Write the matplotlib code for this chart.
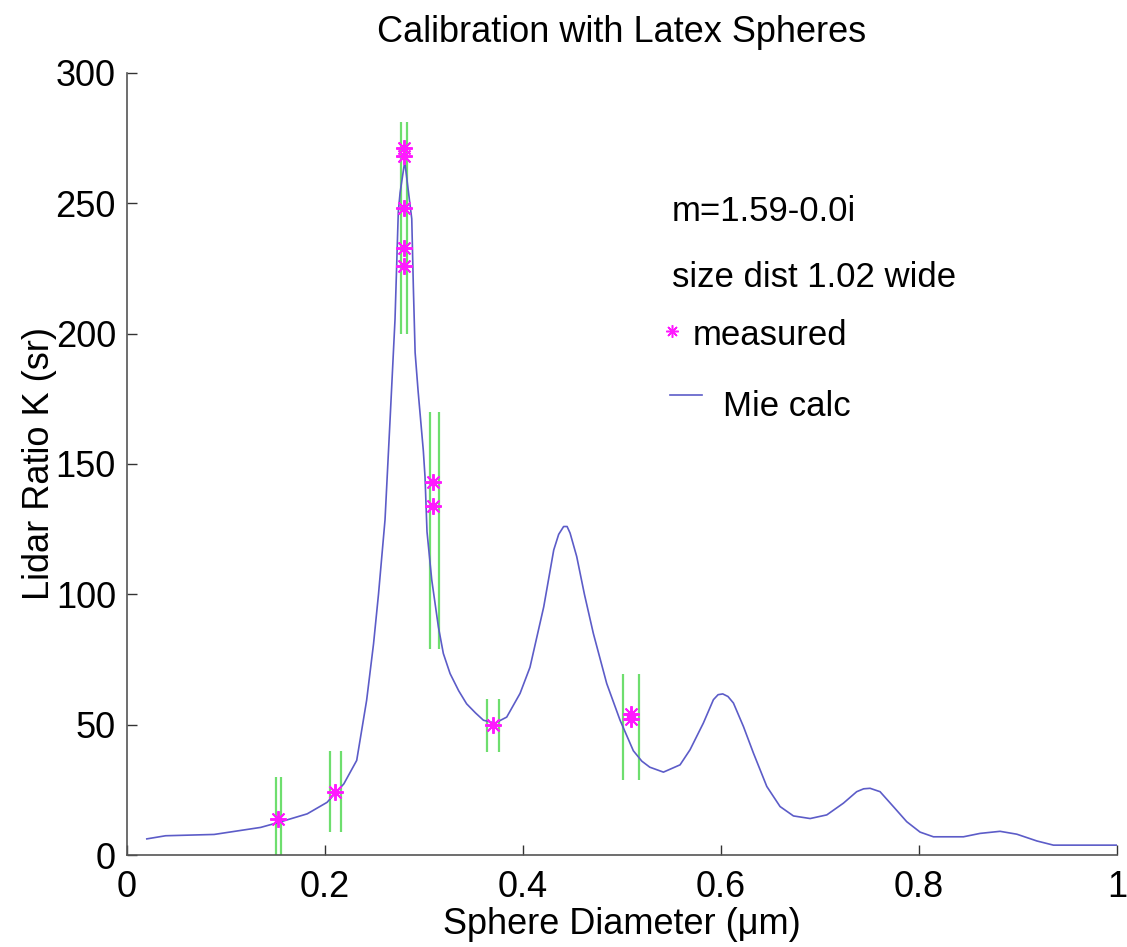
import numpy as np
import matplotlib
matplotlib.use('Agg')
import matplotlib.pyplot as plt

plt.rcParams['font.family'] = ['Liberation Sans', 'DejaVu Sans']

# Mie calculation curve
mie_x = [0.020, 0.039, 0.088, 0.135, 0.153, 0.182, 0.202, 0.219, 0.232, 0.242,
         0.249, 0.254, 0.2606, 0.2657, 0.2707, 0.274, 0.2758, 0.2805, 0.2876, 0.2892,
         0.291, 0.294, 0.2993, 0.301, 0.303, 0.3078, 0.3145, 0.3195, 0.3263, 0.335, 0.343,
         0.352, 0.360, 0.3717, 0.3835, 0.397, 0.407, 0.4209, 0.431, 0.436, 0.441, 0.4445, 0.4475, 0.4542,
         0.462, 0.471, 0.4845, 0.498, 0.5114, 0.520, 0.528, 0.5418, 0.5586, 0.5687, 0.5821, 0.5923,
         0.597, 0.6017, 0.607, 0.6125, 0.6226, 0.6327, 0.6462, 0.6596, 0.6731, 0.690, 0.7068, 0.7236,
         0.737, 0.744, 0.7505, 0.7606, 0.774, 0.7875, 0.801, 0.8145, 0.8448, 0.8616, 0.8818,
         0.8987, 0.919, 0.9357, 1.0]
mie_y = [6.2, 7.4, 7.9, 10.6, 12.5, 15.8, 20.2, 27.3, 36.3, 59.3,
         81, 100, 128.6, 167, 205.5, 246.6, 254, 266, 244, 218,
         192.7, 178, 155, 145, 124, 105.5, 87.5, 77.3, 69.6, 63, 58,
         54.5, 51.7, 50.6, 52.9, 62, 72, 95.2, 117, 123, 126, 126, 123.5, 114.5,
         100, 85, 65.8, 51.7, 40, 36, 33.7, 31.8, 34.6, 40.4, 50.6, 59.6,
         61.5, 61.8, 60.8, 58.3, 49.3, 39.1, 26.3, 18.6, 15, 14, 15.4, 19.9,
         24.3, 25.4, 25.6, 24.3, 18.6, 12.8, 8.8, 7, 7, 8.3, 9.1,
         8, 5.4, 3.8, 3.8]

# measured lidar ratios
meas_x = [0.153, 0.210, 0.280, 0.280, 0.280, 0.280, 0.280, 0.309, 0.309, 0.370, 0.509, 0.509]
meas_y = [14, 24, 271, 268, 248, 233, 226, 143, 134, 50, 52, 54]

# error bar lines
bar_x = [0.1508, 0.1556, 0.2047, 0.2158, 0.2764, 0.2825, 0.306, 0.3155, 0.364, 0.376, 0.5007, 0.5172]
bar_lo = [-3, -3, 9, 9, 200, 200, 79, 79, 39.5, 39.5, 28.6, 28.6]
bar_hi = [30, 30, 40, 40, 281, 281, 170, 170, 60, 60, 69.6, 69.6]

fs = 26
star = (8, 2, 0)

fig = plt.figure(figsize=(11.27, 9.47), dpi=100)
ax = fig.add_axes([0.1127, 0.0971, 0.8785, 0.826])

ax.vlines(bar_x, bar_lo, bar_hi, colors='#6ede6e', linewidth=1.6, zorder=2)
ax.plot(mie_x, mie_y, color='#5c5cc8', linewidth=1.2, zorder=3)
ax.plot(meas_x, meas_y, linestyle='none', marker=star, markersize=12,
        markeredgecolor='#ff19ff', markeredgewidth=1.4, zorder=4)

ax.set_xlim(0, 1)
ax.set_ylim(0, 300)
ax.set_xticks([0, 0.2, 0.4, 0.6, 0.8, 1])
ax.set_xticklabels(['0', '0.2', '0.4', '0.6', '0.8', '1'])
ax.set_yticks([0, 50, 100, 150, 200, 250, 300])
ax.tick_params(direction='in', length=7, width=1, labelsize=fs, pad=8, color='#333333')
ax.tick_params(axis='x', pad=11)
for s in ['top', 'right']:
    ax.spines[s].set_visible(False)
for s in ['left', 'bottom']:
    ax.spines[s].set_color('#555555')
    ax.spines[s].set_linewidth(1.2)

ax.set_title('Calibration with Latex Spheres', fontsize=fs, pad=22)
ax.set_xlabel('Sphere Diameter (\u03bcm)', fontsize=fs, labelpad=1)
ax.set_ylabel('Lidar Ratio K (sr)', fontsize=fs, labelpad=-1)

# legend-like annotations
ax.text(0.550, 243.0, 'm=1.59-0.0i', fontsize=fs - 1, va='baseline')
ax.text(0.550, 218.0, 'size dist 1.02 wide', fontsize=fs - 1, va='baseline')
ax.plot([0.5505], [200.8], linestyle='none', marker=star, markersize=9,
        markeredgecolor='#ff19ff', markeredgewidth=1.1)
ax.text(0.5717, 195.5, 'measured', fontsize=fs - 1, va='baseline')
ax.plot([0.5485, 0.581], [176.5, 176.5], color='#5c5cc8', linewidth=1.2)
ax.text(0.602, 168.5, 'Mie calc', fontsize=fs - 1, va='baseline')

fig.savefig('out.png', dpi=100)
